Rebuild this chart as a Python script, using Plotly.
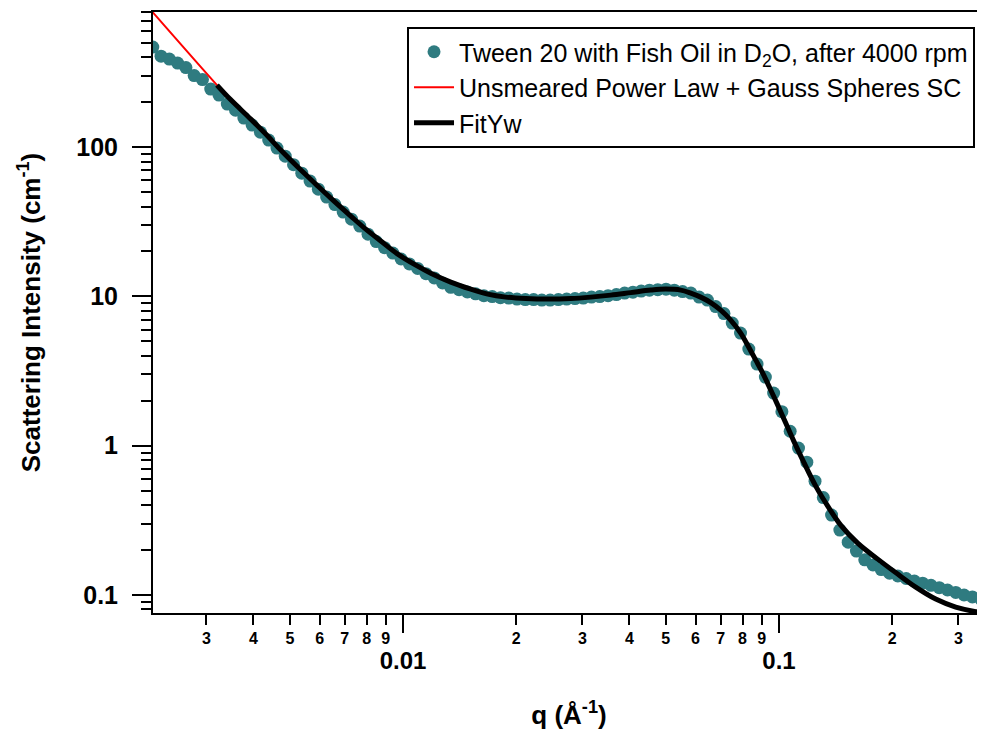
import plotly.graph_objects as go

# ---- data ----
q_data = [0.00216, 0.002272, 0.002391, 0.002515, 0.002646, 0.002783, 0.002928, 0.00308, 0.00324, 0.003409,
          0.003586, 0.003773, 0.003969, 0.004175, 0.004393, 0.004621, 0.004861, 0.005114, 0.00538, 0.00566,
          0.005954, 0.006264, 0.00659, 0.006932, 0.007293, 0.007672, 0.008071, 0.008491, 0.008932, 0.009397,
          0.009885, 0.0104, 0.01094, 0.01151, 0.01211, 0.01274, 0.0134, 0.0141, 0.01483, 0.0156,
          0.01641, 0.01727, 0.01816, 0.01911, 0.0201, 0.02115, 0.02225, 0.0234, 0.02462, 0.0259,
          0.02725, 0.02867, 0.03016, 0.03172, 0.03337, 0.03511, 0.03694, 0.03886, 0.04088, 0.043,
          0.04524, 0.04759, 0.05007, 0.05267, 0.05541, 0.05829, 0.06132, 0.06451, 0.06787, 0.0714,
          0.07511, 0.07902, 0.08313, 0.08745, 0.092, 0.09678, 0.1018, 0.1071, 0.1127, 0.1186,
          0.1247, 0.1312, 0.138, 0.1452, 0.1528, 0.1607, 0.1691, 0.1779, 0.1871, 0.1969,
          0.2071, 0.2179, 0.2292, 0.2411, 0.2537, 0.2669, 0.2807, 0.2953, 0.3107, 0.3269, 0.3439]
I_data = [467.6, 406.8, 388.5, 365.3, 340.8, 301.2, 283.3, 244.6, 223.0, 194.1,
          176.9, 156.4, 140.4, 126.0, 111.4, 98.5, 87.0, 76.3, 66.9, 59.2,
          52.3, 46.3, 41.2, 36.7, 32.9, 29.6, 26.1, 23.3, 21.2, 19.5,
          17.8, 16.5, 15.4, 14.2, 13.3, 12.3, 11.5, 11.1, 10.7, 10.4,
          10.1, 9.97, 9.81, 9.74, 9.59, 9.52, 9.52, 9.45, 9.45, 9.52,
          9.59, 9.67, 9.74, 9.89, 9.97, 10.12, 10.28, 10.52, 10.68, 10.85,
          11.01, 11.10, 11.18, 11.01, 10.77, 10.52, 9.89, 9.45, 8.55, 7.67,
          6.63, 5.68, 4.44, 3.52, 2.88, 2.25, 1.69, 1.25, 0.964, 0.776,
          0.579, 0.449, 0.343, 0.272, 0.226, 0.197, 0.172, 0.159, 0.148, 0.140,
          0.134, 0.129, 0.124, 0.120, 0.116, 0.112, 0.108, 0.104, 0.100, 0.097, 0.094]

fit_q = [0.0032, 0.003467, 0.003937, 0.004315, 0.004729, 0.005249, 0.005861, 0.006424, 0.007262, 0.007961,
         0.008727, 0.009685, 0.010815, 0.011854, 0.013396, 0.015146, 0.016805, 0.018767, 0.021205, 0.024266,
         0.027932, 0.031578, 0.035689, 0.04034, 0.0456, 0.049968, 0.054802, 0.058254, 0.06192, 0.065826,
         0.07, 0.0744, 0.0791, 0.0831, 0.08676, 0.090549, 0.095083, 0.099245, 0.10423, 0.1095,
         0.11637, 0.12527, 0.13482, 0.14595, 0.16197, 0.1831, 0.20692, 0.23108, 0.26115, 0.29517,
         0.33371, 0.36579]
fit_I = [260.2, 209.7, 154.0, 122.2, 95.5, 73.5, 56.5, 45.5, 34.5, 28.2,
         23.5, 19.2, 16.2, 14.3, 12.47, 11.19, 10.36, 9.89, 9.67, 9.59,
         9.67, 9.89, 10.2, 10.6, 11.02, 11.19, 11.02, 10.52, 9.89, 9.09,
         8.09, 6.94, 5.68, 4.57, 3.74, 3.06, 2.36, 1.87, 1.417, 1.073,
         0.776, 0.536, 0.394, 0.294, 0.2226, 0.1739, 0.138, 0.1129, 0.0939, 0.083,
         0.0774, 0.0755]

# unsmeared model: extends the power law to low q, identical to the fit elsewhere
model_low_q = [0.0020]
model_low_I = [998.0]
model_q = model_low_q + fit_q
model_I = model_low_I + fit_I

# tick labels
x_minor_vals = [0.003, 0.004, 0.005, 0.006, 0.007, 0.008, 0.009,
                0.02, 0.03, 0.04, 0.05, 0.06, 0.07, 0.08, 0.09, 0.2, 0.3]
x_minor_text = ["3", "4", "5", "6", "7", "8", "9",
                "2", "3", "4", "5", "6", "7", "8", "9", "2", "3"]
x_major_vals = [0.01, 0.1]
x_major_text = ["0.01", "0.1"]
y_major_vals = [0.1, 1, 10, 100]
y_major_text = ["0.1", "1", "10", "100"]
y_minor_vals = [0.08, 0.09,
                0.2, 0.3, 0.4, 0.5, 0.6, 0.7, 0.8, 0.9,
                2, 3, 4, 5, 6, 7, 8, 9,
                20, 30, 40, 50, 60, 70, 80, 90,
                200, 300, 400, 500, 600, 700, 800]

FONT = "Liberation Sans, Arial, sans-serif"
TEAL = "#2F7B80"

fig = go.Figure()
fig.add_trace(go.Scatter(
    x=q_data, y=I_data, mode="markers",
    marker=dict(color=TEAL, size=13, line=dict(width=0)),
    name="Tween 20 with Fish Oil in D<sub>2</sub>O, after 4000 rpm"))
fig.add_trace(go.Scatter(
    x=model_q, y=model_I, mode="lines", line=dict(color="#FF0000", width=2, shape="spline"),
    name="Unsmeared Power Law + Gauss Spheres SC"))
fig.add_trace(go.Scatter(
    x=fit_q, y=fit_I, mode="lines", line=dict(color="black", width=5, shape="spline"),
    name="FitYw"))
# empty trace to carry the overlay axis with the decade labels
fig.add_trace(go.Scatter(x=[], y=[], xaxis="x2", showlegend=False, hoverinfo="skip"))

xrange = [-2.665, -0.452]
yrange = [-1.1206, 2.905]

fig.update_layout(
    width=977, height=723,
    margin=dict(l=145, r=0, t=4, b=118),
    paper_bgcolor="white", plot_bgcolor="white",
    font=dict(family=FONT, color="black"),
    showlegend=True,
    legend=dict(
        x=0.988, y=0.975, xanchor="right", yanchor="top",
        bgcolor="white", bordercolor="black", borderwidth=2,
        font=dict(family=FONT, size=25, color="black"),
        tracegroupgap=0, itemwidth=40,
    ),
    xaxis=dict(
        type="log", range=xrange,
        showgrid=False, zeroline=False,
        showline=True, linecolor="black", linewidth=2, mirror=True,
        ticks="outside", ticklen=10, tickwidth=2, tickcolor="black",
        tickvals=x_minor_vals, ticktext=x_minor_text,
        tickfont=dict(family=FONT, size=16, color="black", weight="bold"),
        ticklabelstandoff=0,
        title=dict(text="q (Å<sup>-1</sup>)", font=dict(family=FONT, size=26, weight="bold"), standoff=60),
    ),
    xaxis2=dict(
        type="log", range=xrange, overlaying="x", anchor="y", side="bottom",
        showgrid=False, zeroline=False, showline=False,
        ticks="outside", ticklen=19, tickwidth=2, tickcolor="black",
        tickvals=x_major_vals, ticktext=x_major_text,
        tickfont=dict(family=FONT, size=24, color="black", weight="bold"),
        ticklabelstandoff=7,
    ),
    yaxis=dict(
        type="log", range=yrange,
        showgrid=False, zeroline=False,
        showline=True, linecolor="black", linewidth=2, mirror=False,
        ticks="outside", ticklen=19, tickwidth=2, tickcolor="black",
        tickvals=y_major_vals, ticktext=y_major_text,
        tickfont=dict(family=FONT, size=25, color="black", weight="bold"),
        ticklabelstandoff=9,
        minor=dict(tickvals=y_minor_vals, ticks="outside", ticklen=10, tickwidth=2,
                   tickcolor="black", showgrid=False),
        title=dict(text="Scattering Intensity (cm<sup>-1</sup>)",
                   font=dict(family=FONT, size=26, weight="bold"), standoff=28),
    ),
)

fig.write_html("out.html")
